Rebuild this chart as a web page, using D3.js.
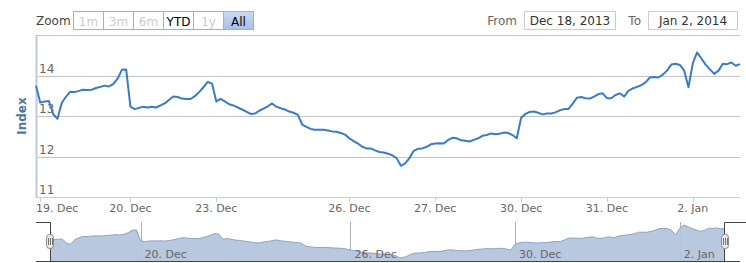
<!DOCTYPE html>
<html>
<head>
<meta charset="utf-8">
<script src="https://cdn.jsdelivr.net/npm/d3@7"></script>
<style>
  html, body { margin: 0; padding: 0; background: #fff; }
  svg { display: block; font-family: "DejaVu Sans", Verdana, sans-serif; }
</style>
</head>
<body>
<div id="chart"></div>
<script>
// trading days on an ordinal axis (gaps removed), intraday values
const days = [
  { day: "18. Dec", values: [13.75] },
  { day: "19. Dec", values: [13.33, 13.36, 13.37, 13.05, 12.93, 13.32, 13.48, 13.60, 13.59, 13.62, 13.65, 13.64, 13.65, 13.69, 13.72, 13.75, 13.73, 13.79, 13.92, 14.14, 14.15] },
  { day: "20. Dec", values: [13.23, 13.17, 13.20, 13.23, 13.21, 13.23, 13.21, 13.26, 13.31, 13.40, 13.48, 13.47, 13.43, 13.42, 13.42, 13.49, 13.59, 13.71, 13.84, 13.80] },
  { day: "23. Dec", values: [13.36, 13.42, 13.36, 13.29, 13.26, 13.21, 13.16, 13.11, 13.05, 13.06, 13.13, 13.18, 13.24, 13.31, 13.23, 13.19, 13.16, 13.11, 13.08, 13.03] },
  { day: "24. Dec", values: [12.79, 12.73, 12.68, 12.66, 12.66, 12.66, 12.64, 12.62, 12.61, 12.58, 12.54] },
  { day: "26. Dec", values: [12.45, 12.38, 12.32, 12.24, 12.20, 12.20, 12.15, 12.11, 12.10, 12.07, 12.03, 11.96, 11.77, 11.83, 11.96, 12.14, 12.19, 12.20, 12.24, 12.30] },
  { day: "27. Dec", values: [12.32, 12.33, 12.32, 12.41, 12.46, 12.45, 12.40, 12.39, 12.37, 12.41, 12.45, 12.51, 12.53, 12.57, 12.55, 12.56, 12.59, 12.58, 12.53, 12.45] },
  { day: "30. Dec", values: [12.95, 13.05, 13.10, 13.11, 13.08, 13.04, 13.06, 13.06, 13.09, 13.14, 13.17, 13.17, 13.30, 13.45, 13.47, 13.44, 13.43, 13.48, 13.54, 13.56] },
  { day: "31. Dec", values: [13.44, 13.44, 13.52, 13.56, 13.48, 13.62, 13.68, 13.72, 13.76, 13.83, 13.95, 13.96, 13.95, 14.02, 14.12, 14.27, 14.29, 14.26, 14.12, 13.71] },
  { day: "2. Jan",  values: [14.30, 14.57, 14.42, 14.27, 14.15, 14.04, 14.12, 14.29, 14.28, 14.32, 14.24, 14.28] }
];

const mainTicks = ["19. Dec", "20. Dec", "23. Dec", "26. Dec", "27. Dec", "30. Dec", "31. Dec", "2. Jan"];
const navTicks = ["20. Dec", "26. Dec", "30. Dec", "2. Jan"];
const yTicks = [11, 12, 13, 14, 15];
const rangeButtons = [
  { text: "1m", state: "disabled" },
  { text: "3m", state: "disabled" },
  { text: "6m", state: "disabled" },
  { text: "YTD", state: "normal" },
  { text: "1y", state: "disabled" },
  { text: "All", state: "selected" }
];
const fromDate = "Dec 18, 2013";
const toDate = "Jan 2, 2014";

// flatten into ordinal points
const points = [];
const dayStart = {};
days.forEach(d => {
  dayStart[d.day] = points.length;
  d.values.forEach(v => points.push({ i: points.length, v }));
});

const width = 746, height = 263;
const plot = { left: 36, right: 740, top: 35, bottom: 197 };
const nav = { left: 50, right: 725, top: 222, bottom: 262 };

const svg = d3.select("#chart").append("svg")
  .attr("width", width)
  .attr("height", height);

const x = d3.scaleLinear().domain([0, points.length - 1]).range([plot.left, plot.right]);
const y = d3.scaleLinear().domain([11, 15]).range([plot.bottom, plot.top]);

// ---- range selector ----
svg.append("text").attr("x", 36).attr("y", 25)
  .attr("font-size", 12).attr("fill", "#444").text("Zoom");

const defs = svg.append("defs");
const grad = defs.append("linearGradient").attr("id", "sel").attr("x1", 0).attr("y1", 0).attr("x2", 0).attr("y2", 1);
grad.append("stop").attr("offset", "0%").attr("stop-color", "#c9d9f2");
grad.append("stop").attr("offset", "100%").attr("stop-color", "#a9c1e6");

const btn = svg.append("g").selectAll("g")
  .data(rangeButtons)
  .join("g")
  .attr("transform", (d, i) => `translate(${73.5 + i * 30},11.5)`);

btn.append("rect")
  .attr("width", 30).attr("height", 18)
  .attr("fill", d => d.state === "selected" ? "url(#sel)" : "#fff")
  .attr("stroke", "#9fb2cc").attr("stroke-width", 1);

btn.append("text")
  .attr("x", 15).attr("y", 14)
  .attr("text-anchor", "middle")
  .attr("font-size", 12)
  .attr("fill", d => d.state === "disabled" ? "#ccc" : "#000")
  .text(d => d.text);

// ---- date inputs ----
svg.append("text").attr("x", 517).attr("y", 25).attr("text-anchor", "end")
  .attr("font-size", 12).attr("fill", "#666").text("From");
svg.append("rect").attr("x", 524.5).attr("y", 11.5).attr("width", 91).attr("height", 18)
  .attr("fill", "#fff").attr("stroke", "#ccc");
svg.append("text").attr("x", 570).attr("y", 25).attr("text-anchor", "middle")
  .attr("font-size", 12).attr("fill", "#333").text(fromDate);

svg.append("text").attr("x", 641).attr("y", 25).attr("text-anchor", "end")
  .attr("font-size", 12).attr("fill", "#666").text("To");
svg.append("rect").attr("x", 648.5).attr("y", 11.5).attr("width", 89).attr("height", 18)
  .attr("fill", "#fff").attr("stroke", "#ccc");
svg.append("text").attr("x", 693).attr("y", 25).attr("text-anchor", "middle")
  .attr("font-size", 12).attr("fill", "#333").text(toDate);

// ---- main plot ----
svg.append("g").selectAll("line")
  .data(yTicks)
  .join("line")
  .attr("x1", plot.left).attr("x2", plot.right)
  .attr("y1", d => Math.round(y(d)) + 0.5).attr("y2", d => Math.round(y(d)) + 0.5)
  .attr("stroke", "#c4c4c4");

svg.append("g").selectAll("text")
  .data(yTicks.slice(0, -1))
  .join("text")
  .attr("x", plot.left + 3).attr("y", d => y(d) - 3)
  .attr("font-size", 12).attr("fill", "#666")
  .text(d => d);

// axis lines
svg.append("line")
  .attr("x1", plot.left).attr("x2", plot.right)
  .attr("y1", plot.bottom + 0.5).attr("y2", plot.bottom + 0.5)
  .attr("stroke", "#c0d0e0");
svg.append("line")
  .attr("x1", plot.left + 0.5).attr("x2", plot.left + 0.5)
  .attr("y1", plot.top).attr("y2", plot.bottom + 1)
  .attr("stroke", "#c0cad6").attr("stroke-width", 2);

svg.append("text")
  .attr("transform", `translate(26,${(plot.top + plot.bottom) / 2}) rotate(-90)`)
  .attr("text-anchor", "middle")
  .attr("font-size", 12).attr("font-weight", "bold").attr("fill", "#4d759e")
  .text("Index");

// x ticks + labels
const xt = svg.append("g").selectAll("g")
  .data(mainTicks)
  .join("g");
xt.append("line")
  .attr("x1", d => Math.round(x(dayStart[d])) + 0.5).attr("x2", d => Math.round(x(dayStart[d])) + 0.5)
  .attr("y1", plot.bottom).attr("y2", plot.bottom + 5)
  .attr("stroke", "#c0d0e0");
xt.append("text")
  .attr("y", 212)
  .attr("text-anchor", "middle")
  .attr("font-size", 11).attr("fill", "#666")
  .text(d => d)
  .attr("x", function (d) {
    const w = this.getComputedTextLength();
    return Math.max(x(dayStart[d]), plot.left + w / 2);
  });

const line = d3.line().x(d => x(d.i)).y(d => y(d.v));
svg.append("path")
  .datum(points)
  .attr("d", line)
  .attr("fill", "none")
  .attr("stroke", "#3a7bc8")
  .attr("stroke-width", 2)
  .attr("stroke-linejoin", "round");

// ---- navigator ----
const nx = d3.scaleLinear().domain([0, points.length - 1]).range([nav.left, nav.right]);
const ny = d3.scaleLinear().domain(d3.extent(points, d => d.v)).range([nav.bottom - 4, nav.top + 3]);

svg.append("g").selectAll("line")
  .data(navTicks)
  .join("line")
  .attr("x1", d => Math.round(nx(dayStart[d])) + 0.5).attr("x2", d => Math.round(nx(dayStart[d])) + 0.5)
  .attr("y1", nav.top).attr("y2", nav.bottom)
  .attr("stroke", "#b0b0b0");

const area = d3.area().x(d => nx(d.i)).y0(nav.bottom).y1(d => ny(d.v));
svg.append("path").datum(points).attr("d", area)
  .attr("fill", "#b4c5dc").attr("fill-opacity", 0.95);
svg.append("path").datum(points).attr("d", d3.line().x(d => nx(d.i)).y(d => ny(d.v)))
  .attr("fill", "none").attr("stroke", "#8da4c6").attr("stroke-width", 1);

svg.append("g").selectAll("text")
  .data(navTicks)
  .join("text")
  .attr("x", d => nx(dayStart[d]) + 4).attr("y", 258)
  .attr("font-size", 11).attr("fill", "#666")
  .text(d => d);

// outline
svg.append("path")
  .attr("d", `M${plot.left},${nav.top + 0.5}H${nav.left + 0.5}V${nav.bottom - 0.5}H${nav.right - 0.5}V${nav.top + 0.5}H${width}`)
  .attr("fill", "none").attr("stroke", "#444");
svg.append("line")
  .attr("x1", plot.left).attr("x2", plot.right)
  .attr("y1", nav.bottom - 0.5).attr("y2", nav.bottom - 0.5)
  .attr("stroke", "#444");

// handles
const handles = svg.append("g").selectAll("g")
  .data([nav.left, nav.right])
  .join("g")
  .attr("transform", d => `translate(${d},234)`);
handles.append("rect")
  .attr("x", -3.5).attr("y", 0.5).attr("width", 7).attr("height", 14).attr("rx", 3)
  .attr("fill", "#ebe7e8").attr("stroke", "#8a8a8f");
handles.append("path")
  .attr("d", "M-1.5,4V11M0.5,4V11M2.5,4V11")
  .attr("stroke", "#555").attr("stroke-width", 0.8);
</script>
</body>
</html>
